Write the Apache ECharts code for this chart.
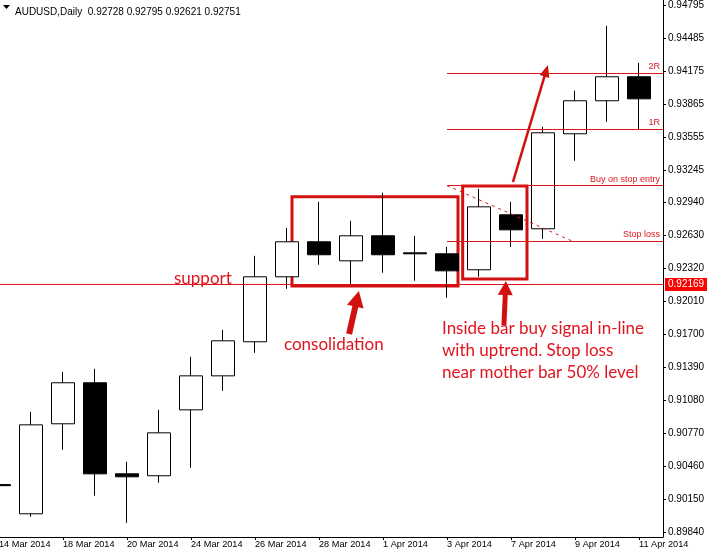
<!DOCTYPE html>
<html><head><meta charset="utf-8">
<script src="https://cdn.jsdelivr.net/npm/echarts@6/dist/echarts.min.js"></script>
<style>html,body{margin:0;padding:0;background:#fff}#c{width:707px;height:555px}</style>
</head><body><div id="c"></div>
<script>
// ---- data ----
const dates = ['14 Mar 2014','17 Mar 2014','18 Mar 2014','19 Mar 2014','20 Mar 2014','21 Mar 2014','24 Mar 2014','25 Mar 2014','26 Mar 2014','27 Mar 2014','28 Mar 2014','31 Mar 2014','1 Apr 2014','2 Apr 2014','3 Apr 2014','4 Apr 2014','7 Apr 2014','8 Apr 2014','9 Apr 2014','10 Apr 2014','11 Apr 2014'];
const openP  = [0.90290,0.90016,0.90861,0.91246,0.90391,0.90373,0.90992,0.91311,0.91631,0.92241,0.92570,0.92391,0.92626,0.92466,0.92457,0.92307,0.92823,0.92692,0.93584,0.93894,0.94119];
const closeP = [0.90280,0.90851,0.91246,0.90391,0.90363,0.90776,0.91311,0.91640,0.92241,0.92570,0.92448,0.92626,0.92448,0.92457,0.92297,0.92898,0.92682,0.93593,0.93894,0.94119,0.93912];
const lowP   = [0.90200,0.89988,0.90617,0.90185,0.89931,0.90307,0.90448,0.91171,0.91527,0.92128,0.92354,0.92166,0.92279,0.92204,0.92044,0.92242,0.92523,0.92598,0.93330,0.93696,0.93621];
const highP  = [0.90360,0.90974,0.91349,0.91377,0.90504,0.90992,0.91490,0.91743,0.92438,0.92701,0.92945,0.92767,0.93030,0.92626,0.92523,0.93067,0.92945,0.93650,0.93988,0.94598,0.94250];
const yTicks = [0.89840,0.90150,0.90460,0.90770,0.91080,0.91390,0.91700,0.92010,0.92320,0.92630,0.92940,0.93245,0.93555,0.93865,0.94175,0.94485,0.94795];
const xLabelIdx = [0,2,4,6,8,10,12,14,16,18,20];
const titleText = 'AUDUSD,Daily  0.92728 0.92795 0.92621 0.92751';
const level2R = 0.94150, level1R = 0.93624, levelEntry = 0.93098, levelStop = 0.92573;
const levelSupport = 0.92169, lastPrice = 0.92751;

const RED = '#e0141e';
const BOX = '#d21010';
const candles = dates.map((d, i) => [i, openP[i], closeP[i], lowP[i], highP[i]]);

function hLine(x0, x1, v, labelText, extraLabel) {
  const ls = {color: RED, width: 1, type: 'solid'};
  const lab = labelText ? Object.assign({show: true, formatter: labelText, position: 'insideEndTop',
      color: RED, fontSize: 9, fontFamily: 'Liberation Sans', distance: [3, 2]}, extraLabel || {}) : {show: false};
  return [{coord: [x0, v], lineStyle: ls, label: lab}, {coord: [x1, v], lineStyle: ls, label: lab}];
}
function arrow(p0, p1, width, head) {
  const ls = {color: BOX, width: width, type: 'solid', cap: 'butt'};
  return [{coord: p0, lineStyle: ls, label: {show: false}, symbol: 'none'},
          {coord: p1, lineStyle: ls, label: {show: false}, symbol: 'triangle', symbolSize: head,
           itemStyle: {color: BOX}}];
}
const XR = 20.75;
const TXT = {fill: RED, font: '17px Lato', verticalAlign: 'top'};

const option = {
  animation: false,
  backgroundColor: '#ffffff',
  grid: {left: -1, right: 44, top: 0, bottom: 18, containLabel: false, outerBoundsMode: 'none'},
  title: {text: titleText, left: 10, top: 2,
    textStyle: {fontSize: 10, fontWeight: 'normal', color: '#000', fontFamily: 'Liberation Sans'}},
  xAxis: {
    type: 'value', min: 0, max: XR,
    axisLine: {show: true, onZero: false, lineStyle: {color: '#000', width: 1}},
    axisTick: {show: true, customValues: xLabelIdx, length: 3, lineStyle: {color: '#000'}},
    axisLabel: {show: true, customValues: xLabelIdx, formatter: v => dates[Math.round(v)],
      align: 'left', fontSize: 9.2, color: '#000', fontFamily: 'Liberation Sans', margin: 3,
      hideOverlap: false},
    splitLine: {show: false}
  },
  yAxis: {
    type: 'value', position: 'right', min: 0.89798, max: 0.94840, scale: true,
    axisLine: {show: true, onZero: false, lineStyle: {color: '#000', width: 1}},
    axisTick: {show: true, customValues: yTicks, length: 3, lineStyle: {color: '#000'}},
    axisLabel: {show: true, customValues: yTicks, formatter: v => v.toFixed(5),
      fontSize: 10, color: '#000', fontFamily: 'Liberation Sans', margin: 5},
    splitLine: {show: false}
  },
  series: [{
    type: 'candlestick',
    data: candles,
    encode: {x: 0, y: [1, 2, 3, 4]},
    barWidth: 24,
    clip: true,
    itemStyle: {color: '#ffffff', color0: '#000000', borderColor: '#000000', borderColor0: '#000000', borderWidth: 1},
    markArea: {
      silent: true,
      itemStyle: {color: 'rgba(0,0,0,0)', borderColor: BOX, borderWidth: 3},
      data: [
        [{coord: [9.156, 0.92993]}, {coord: [14.344, 0.92155]}],
        [{coord: [14.49, 0.93094]}, {coord: [16.5, 0.92220]}]
      ]
    },
    markLine: {
      silent: true,
      symbol: ['none', 'none'],
      precision: 5,
      data: [
        hLine(14, XR, level2R, '2R'),
        hLine(14, XR, level1R, '1R'),
        hLine(14, XR, levelEntry, 'Buy on stop entry'),
        hLine(14, XR, levelStop, 'Stop loss'),
        hLine(0, XR, levelSupport, v => levelSupport.toFixed(5),
          {position: 'end', distance: 2, color: '#fff', backgroundColor: '#ff0000',
           fontSize: 10, padding: [2, 3, 1, 3]}),
        (function () {
          const ls = {opacity: 0, width: 0};
          const lab = {show: true, position: 'end', formatter: lastPrice.toFixed(5), distance: 2,
            color: '#fff', backgroundColor: '#000', fontSize: 10, fontFamily: 'Liberation Sans', padding: [2, 3, 1, 3]};
          return [{coord: [20, lastPrice], lineStyle: ls, label: lab}, {coord: [XR, lastPrice], lineStyle: ls, label: lab}];
        })(),
        (function () {
          const ls = {color: RED, width: 1, type: [3, 4]};
          return [{coord: [14, levelEntry], lineStyle: ls, label: {show: false}}, {coord: [17.94, levelStop], lineStyle: ls, label: {show: false}}];
        })(),
        arrow([16.06, 0.93131], [17.10, 0.94176], 2.5, [10, 12]),
        arrow([10.94, 0.91704], [11.19, 0.92034], 6, [17, 16]),
        arrow([15.78, 0.91788], [15.83, 0.92136], 5, [15, 14])
      ]
    }
  }],
  graphic: [
    {type: 'polygon', shape: {points: [[3, 5], [10, 5], [6.5, 9]]}, style: {fill: '#000'}},
    {type: 'text', style: Object.assign({x: 174, y: 270, text: 'support'}, TXT)},
    {type: 'text', style: Object.assign({x: 284, y: 336, text: 'consolidation'}, TXT)},
    {type: 'text', style: Object.assign({x: 442, y: 320, text: 'Inside bar buy signal in-line'}, TXT)},
    {type: 'text', style: Object.assign({x: 442, y: 342, text: 'with uptrend. Stop loss'}, TXT)},
    {type: 'text', style: Object.assign({x: 442, y: 364, text: 'near mother bar 50% level'}, TXT)}
  ]
};
const chart = echarts.init(document.getElementById('c'));
chart.setOption(option);
</script>
</body></html>
